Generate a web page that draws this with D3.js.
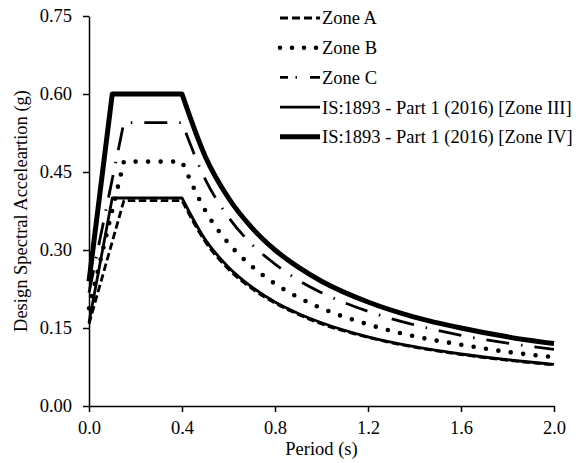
<!DOCTYPE html>
<html>
<head>
<meta charset="utf-8">
<script src="https://cdn.jsdelivr.net/npm/d3@7"></script>
<style>
body{margin:0;background:#fff;}
</style>
</head>
<body>
<script>
// period values (s)
const periods = [0, 0.10, 0.15, 0.40, 0.50, 0.60, 0.70, 0.80, 0.90, 1.00, 1.20, 1.40, 1.60, 1.80, 2.00];
// spectral acceleration (g)
const zoneA = [0.158, 0.316, 0.395, 0.395, 0.316, 0.263, 0.226, 0.198, 0.176, 0.158, 0.132, 0.113, 0.099, 0.088, 0.079];
const zoneB = [0.188, 0.376, 0.470, 0.470, 0.376, 0.313, 0.269, 0.235, 0.209, 0.188, 0.157, 0.134, 0.118, 0.104, 0.094];
const zoneC = [0.218, 0.436, 0.545, 0.545, 0.436, 0.363, 0.311, 0.273, 0.242, 0.218, 0.182, 0.156, 0.136, 0.121, 0.109];
const zone3 = [0.160, 0.400, 0.400, 0.400, 0.320, 0.267, 0.229, 0.200, 0.178, 0.160, 0.133, 0.114, 0.100, 0.089, 0.080];
const zone4 = [0.240, 0.600, 0.600, 0.600, 0.480, 0.400, 0.343, 0.300, 0.267, 0.240, 0.200, 0.171, 0.150, 0.133, 0.120];
const seriesNames = ["Zone A", "Zone B", "Zone C", "IS:1893 - Part 1 (2016) [Zone III]", "IS:1893 - Part 1 (2016) [Zone IV]"];
const xTicks = [0, 0.4, 0.8, 1.2, 1.6, 2.0];
const yTicks = [0, 0.15, 0.30, 0.45, 0.60, 0.75];

const width = 580, height = 463;
const margin = {top:16, right:26, bottom:57, left:89};
const innerWidth = width - margin.left - margin.right;
const innerHeight = height - margin.top - margin.bottom;
const font = "'Liberation Serif', 'Times New Roman', serif";
const fontSize = 18.5;

const styles = [
	{width:2.8, dash:"7.5,3.5", cap:"butt", legendDash:"8,4"},
	{width:4.6, dash:"0,12.5", cap:"round", legendDash:"0,12"},
	{width:2.8, dash:"23,12,1.5,12", cap:"butt", legendDash:"8,7.5,1.5,13,20"},
	{width:2.8, dash:null, cap:"butt", legendDash:null},
	{width:5, dash:null, cap:"butt", legendDash:null}
];
const allSeries = [zoneA, zoneB, zoneC, zone3, zone4];

let svg = d3.select("body").append("svg")
	.attr("width", width)
	.attr("height", height)
	.style("font-family", font);

let x = d3.scaleLinear().domain([0, 2]).range([0, innerWidth]);
let y = d3.scaleLinear().domain([0, 0.75]).range([innerHeight, 0]);

let g = svg.append("g")
	.attr("transform", "translate(" + margin.left + "," + margin.top + ")");

// x-axis
let xAxis = g.append("g")
	.attr("transform", "translate(0," + innerHeight + ")")
	.call(d3.axisBottom(x).tickValues(xTicks).tickSize(6).tickSizeOuter(0).tickFormat(d3.format(".1f")));
// y-axis
let yAxis = g.append("g")
	.call(d3.axisLeft(y).tickValues(yTicks).tickSize(6).tickSizeOuter(0).tickFormat(d3.format(".2f")));

[xAxis, yAxis].forEach(a => {
	a.attr("font-family", font).attr("font-size", fontSize);
	a.select(".domain").attr("stroke", "#000").attr("stroke-width", 1.5);
	a.selectAll(".tick line").attr("stroke", "#000").attr("stroke-width", 1.5);
	a.selectAll(".tick text").attr("fill", "#000");
});
xAxis.selectAll(".tick text").attr("y", 15).attr("dy", "0.71em");
yAxis.selectAll(".tick text").attr("x", -17);

// axis titles
svg.append("text")
	.attr("x", margin.left + innerWidth / 2)
	.attr("y", 455)
	.attr("text-anchor", "middle")
	.attr("font-size", fontSize)
	.text("Period (s)");
svg.append("text")
	.attr("transform", "translate(27," + (margin.top + innerHeight / 2) + ") rotate(-90)")
	.attr("text-anchor", "middle")
	.attr("font-size", fontSize)
	.text("Design Spectral Acceleartion (g)");

// ramp + plateau drawn straight, descending branch smoothed
const linear = d3.line().x(d => x(d[0])).y(d => y(d[1]));
const smooth = d3.line().x(d => x(d[0])).y(d => y(d[1])).curve(d3.curveMonotoneX);

allSeries.forEach((vals, i) => {
	const pts = periods.map((p, j) => [p, vals[j]]);
	const split = periods.indexOf(0.40);
	const s = styles[i];
	const pathD = linear(pts.slice(0, split + 1)) + smooth(pts.slice(split)).replace(/^M[^A-Za-z]*/, "L" + x(0.40) + "," + y(vals[split]));
	g.append("path")
		.attr("d", pathD)
		.attr("fill", "none")
		.attr("stroke", "#000")
		.attr("stroke-width", s.width)
		.attr("stroke-linecap", s.cap)
		.attr("stroke-linejoin", "round")
		.attr("stroke-dasharray", s.dash);
});

// legend
let legend = svg.append("g");
seriesNames.forEach((name, i) => {
	const ly = 18 + i * 29.7;
	const s = styles[i];
	legend.append("line")
		.attr("x1", 280).attr("x2", 320)
		.attr("y1", ly).attr("y2", ly)
		.attr("stroke", "#000")
		.attr("stroke-width", s.width)
		.attr("stroke-linecap", s.cap)
		.attr("stroke-dasharray", s.legendDash);
	legend.append("text")
		.attr("x", 322)
		.attr("y", ly)
		.attr("dy", "0.35em")
		.attr("font-size", fontSize)
		.text(name);
});
</script>
</body>
</html>
